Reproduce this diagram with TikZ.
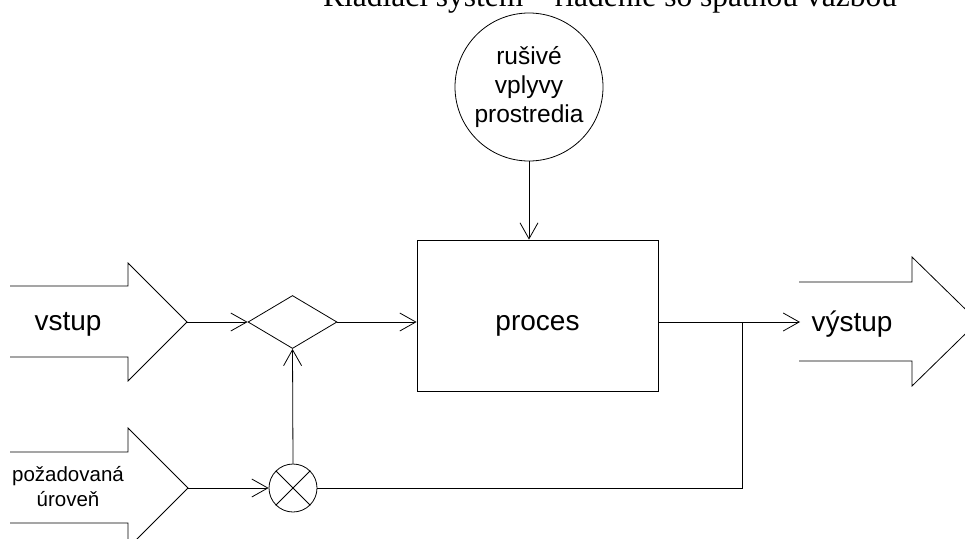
\documentclass[tikz,border=0pt]{standalone}
\usepackage{fontspec}
\setmainfont{Liberation Sans}
\newfontfamily\titlefont{Liberation Serif}
\usetikzlibrary{arrows.meta,shapes.geometric}

\begin{document}
\begin{tikzpicture}[x=1pt, y=-1pt, line width=0.8pt,
  flow/.style={-{Straight Barb[length=16pt,width=18pt]}},
  bigtext/.style={font=\fontsize{28}{34}\selectfont, inner sep=0pt},
  smalltext/.style={font=\fontsize{20.5}{25}\selectfont, align=center, inner sep=0pt},
  blockarrow/.style={draw, line join=miter},
  procbox/.style={draw, rectangle, minimum width=241pt, minimum height=151pt, inner sep=0pt},
  envcircle/.style={draw, circle, minimum size=148pt, inner sep=0pt,
    font=\fontsize{24.5}{29}\selectfont, align=center},
  comparator/.style={draw, diamond, minimum width=89pt, minimum height=53pt, inner sep=0pt},
  mixer/.style={draw, circle, minimum size=48pt, inner sep=0pt}]

  \useasboundingbox (0,0) rectangle (965,538);
  \clip (0,0) rectangle (965,538);

  % title line
  \node[anchor=base, inner sep=0pt, font=\titlefont\fontsize{31.5}{36}\selectfont]
    (title) at (610,6) {Riadiaci systém – riadenie so spätnou väzbou};

  % disturbance source
  \node[envcircle] (dist) at (529,87) {rušivé\\vplyvy\\prostredia};

  % process block
  \node[procbox] (proc) at (537.5,315.5) {};
  \node[bigtext, anchor=base] (proclabel) at (537.5,330) {proces};

  % comparator and mixing junction
  \node[comparator] (dia) at (292.5,322) {};
  \node[mixer] (sum) at (293,488) {};
  \draw (sum.north west) -- (sum.south east)
        (sum.north east) -- (sum.south west);

  % input block arrow
  \draw[blockarrow] (10,286) -- (128,286) -- (128,263) -- (187,322)
    -- (128,381) -- (128,357) -- (10,357);
  \coordinate (intip) at (187,322);
  \node[bigtext, anchor=base] (inlabel) at (68,330) {vstup};

  % setpoint block arrow
  \draw[blockarrow] (10,452) -- (128,452) -- (128,428) -- (188,488)
    -- (128,548) -- (128,523) -- (10,523);
  \coordinate (settip) at (188,488);
  \node[smalltext, anchor=base] (setlabel) at (68,506) {požadovaná\\úroveň};

  % output block arrow
  \draw[blockarrow] (799,282) -- (912,282) -- (912,257) -- (978,321.5)
    -- (912,386) -- (912,361) -- (799,361);
  \node[bigtext, anchor=base] (outlabel) at (852,331) {výstup};

  % signal connections
  \coordinate (outend) at (800,322);
  \coordinate (branch) at (742,322);
  \draw[flow] (intip) -- (dia.west);
  \draw[flow] (dia.east) -- (dia.east -| proc.west);
  \draw[flow] (dist.south) -- (dist.south |- proc.north);
  \draw[flow] (sum.north) -- (dia.south);
  \draw[flow] (settip) -- (sum.west);
  \draw[flow] (dia.east -| proc.east) -- (outend);
  \draw (branch) |- (sum.east);
\end{tikzpicture}
\end{document}
